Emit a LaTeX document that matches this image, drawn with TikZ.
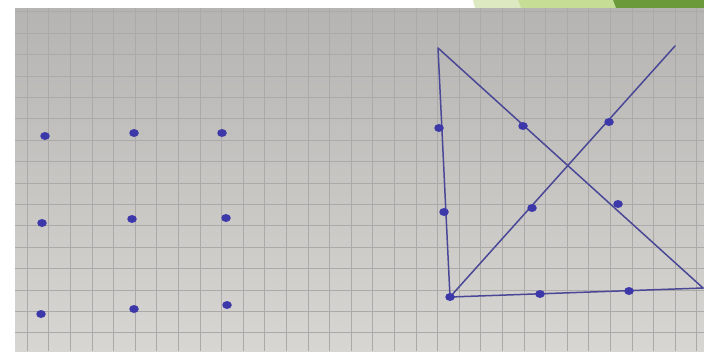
\documentclass[tikz,border=0pt]{standalone}
\usepackage{xcolor}
\usepackage{tikz}
\usetikzlibrary{positioning,calc,shapes.geometric}
\definecolor{paperlow}{RGB}{216,214,210}
\definecolor{paperhigh}{RGB}{182,180,178}
\definecolor{gridgrey}{RGB}{172,170,168}
\definecolor{ink}{RGB}{60,56,170}
\definecolor{penink}{RGB}{74,72,150}
\definecolor{greenA}{RGB}{220,233,193}
\definecolor{greenB}{RGB}{198,221,150}
\definecolor{greenC}{RGB}{106,154,58}
\tikzset{
dot/.style={
ellipse,
fill=ink,
draw=none,
inner sep=0pt,
minimum width=9.5pt,
minimum height=8pt
},
pen/.style={
draw=penink,
line width=1.5pt,
line cap=round
},
gridline/.style={
draw=gridgrey,
line width=0.55pt
}
}

\begin{document}
\begin{tikzpicture}[x=1pt,y=-1pt]
\useasboundingbox (0,0) rectangle (704,351);
\fill[white] (0,0) rectangle (704,351);

% slide corner
\fill[greenA] (473,0) -- (518,0) -- (521,8) -- (475,8) -- cycle;
\fill[greenB] (518,0) -- (613,0) -- (616,8) -- (521,8) -- cycle;
\fill[greenC] (613,0) -- (704,0) -- (704,8) -- (616,8) -- cycle;

% the photo of the graph paper
\shade[top color=paperhigh,bottom color=paperlow] (15,8) rectangle (704,351);
\begin{scope}
\clip (15,8) rectangle (704,351);
\foreach \i in {0,...,32}
\draw[gridline] ({5.4+21.6*\i},8) -- ++(0,343);
\foreach \j in {0,...,16}
\draw[gridline] (15,{11.6+21.4*\j}) -- ++(689,0);
\end{scope}

% nine dots, left
\foreach \n/\x/\y in {l11/45/136,l12/134/133,l13/222/133,
l21/42/223,l22/132/219,l23/226/218,
l31/41/314,l32/134/309,l33/227/305}
\node[dot](\n) at (\x,\y){};

% four lines
\coordinate(tl) at (438,48);
\coordinate(tr) at (675,46);
\coordinate(br) at (703,288);
\coordinate(bl) at (450,297);
\draw[pen](tl)--(bl)--(br)--(tl);
\draw[pen](bl)--(tr);

% nine dots, right
\foreach \n/\x/\y in {r11/439/128,r12/523/126,r13/609/122,
r21/444/212,r22/532/208,r23/618/204,
r31/450/297,r32/540/294,r33/629/291}
\node[dot](\n) at (\x,\y){};
\end{tikzpicture}
\end{document}
